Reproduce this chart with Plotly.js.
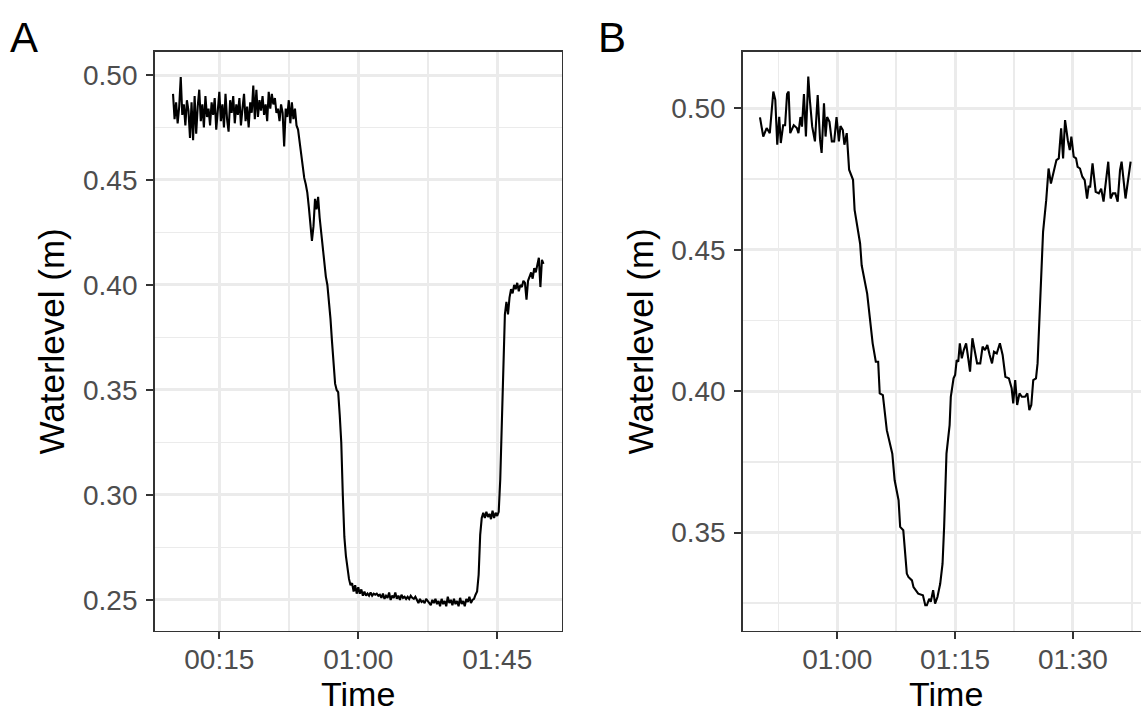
<!DOCTYPE html>
<html>
<head>
<meta charset="utf-8">
<script src="https://cdn.plot.ly/plotly-3.0.1.min.js"></script>
<style>
html, body { margin: 0; padding: 0; overflow: hidden; background: #ffffff; }
#chart { width: 1150px; height: 714px; }
</style>
</head>
<body>
<div id="chart"></div>
<script>
// ---------- Data ----------
// Panel A: sampled every 30 s starting 00:00
const startA_min = 0;
const stepA_min = 0.5;
const levelA = [
0.491,0.479,0.487,0.477,0.485,0.499,0.481,0.486,0.476,0.488,
0.483,0.470,0.487,0.469,0.490,0.472,0.485,0.493,0.478,0.486,
0.475,0.490,0.480,0.484,0.476,0.487,0.481,0.489,0.474,0.485,
0.492,0.478,0.486,0.475,0.491,0.479,0.473,0.488,0.482,0.490,
0.477,0.486,0.481,0.489,0.476,0.484,0.491,0.478,0.485,0.475,
0.487,0.482,0.495,0.479,0.493,0.480,0.488,0.483,0.490,0.481,
0.486,0.478,0.492,0.484,0.491,0.486,0.489,0.482,0.484,0.478,
0.486,0.482,0.466,0.484,0.480,0.488,0.477,0.487,0.479,0.484,
0.476,0.474,0.468,0.462,0.456,0.451,0.448,0.444,0.437,0.430,
0.421,0.428,0.441,0.436,0.442,0.432,0.425,0.418,0.410,0.404,
0.400,0.393,0.384,0.373,0.362,0.353,0.350,0.349,0.338,0.325,
0.300,0.280,0.271,0.265,0.260,0.257,0.258,0.254,0.257,0.253,
0.256,0.253,0.255,0.252,0.254,0.252,0.253,0.252,0.2535,0.252,
0.253,0.2525,0.253,0.252,0.2525,0.251,0.253,0.2505,0.252,0.251,
0.2535,0.250,0.252,0.251,0.2535,0.2505,0.252,0.250,0.2525,0.251,
0.2515,0.2505,0.2515,0.2505,0.252,0.251,0.2505,0.2515,0.250,0.2485,
0.2505,0.249,0.2495,0.2485,0.2505,0.2495,0.249,0.2475,0.250,0.2485,
0.2505,0.248,0.2495,0.247,0.2505,0.248,0.2495,0.247,0.2515,0.2485,
0.250,0.2475,0.2505,0.248,0.2495,0.247,0.251,0.248,0.2495,0.247,
0.2505,0.249,0.2515,0.2485,0.250,0.2505,0.2525,0.254,0.262,0.281,
0.289,0.2915,0.289,0.292,0.2895,0.291,0.2885,0.2925,0.289,0.2915,
0.290,0.292,0.3075,0.337,0.370,0.386,0.392,0.386,0.394,0.398,
0.396,0.400,0.398,0.401,0.397,0.400,0.399,0.402,0.401,0.393,
0.402,0.404,0.406,0.403,0.408,0.406,0.410,0.413,0.399,0.412,
0.410
];

// Panel B: readings (minutes after 00:00, water level in m)
const timeB_min = [
50.15,50.57,51.0,51.4,51.85,52.1,52.35,52.6,52.8,53.1,
53.35,53.6,53.8,54.0,54.45,54.85,55.05,55.3,55.5,55.75,
56.0,56.3,56.5,56.8,57.15,57.5,57.8,58.0,58.3,58.5,
58.7,59.0,59.3,59.6,59.9,60.2,60.4,60.7,60.9,61.2,
61.5,62.0,62.2,62.6,62.9,63.1,63.8,64.5,64.9,65.2,
65.4,65.8,66.1,66.3,67.0,67.3,67.8,68.0,68.4,68.85,
69.05,69.5,69.7,70.0,70.3,70.9,71.2,71.4,71.7,71.9,
72.2,72.45,72.75,73.1,73.4,73.6,73.9,74.3,74.45,74.8,
75.0,75.2,75.4,75.6,75.85,76.1,76.4,76.7,76.9,77.2,
77.5,77.8,78.2,78.5,78.8,79.1,79.4,79.7,79.95,80.3,
80.7,81.05,81.4,81.85,82.2,82.4,82.65,82.9,83.2,83.5,
83.9,84.2,84.45,84.7,84.95,85.3,85.5,85.8,86.0,86.2,
86.6,86.9,87.2,87.5,87.9,88.2,88.5,88.75,89.0,89.35,
89.6,89.8,90.1,90.4,90.6,90.9,91.2,91.5,91.8,92.0,
92.2,92.5,92.9,93.3,93.6,93.9,94.2,94.5,94.8,95.1,
95.4,95.7,96.0,96.2,96.7,97.05,97.35
];
const levelB = [
0.4968,0.4900,0.4930,0.4912,0.5059,0.5030,0.4871,0.4970,0.4877,0.4940,
0.4940,0.5050,0.5059,0.4912,0.4940,0.4930,0.4912,0.4969,0.4935,0.5050,
0.4900,0.5112,0.5030,0.4935,0.4883,0.5047,0.4889,0.4842,0.5018,0.4900,
0.4969,0.4952,0.4883,0.4883,0.4969,0.4883,0.4937,0.4923,0.4871,0.4912,
0.4783,0.4747,0.4641,0.4569,0.4522,0.4445,0.4345,0.4169,0.4104,0.4104,
0.3992,0.3986,0.3897,0.3862,0.3779,0.3685,0.3614,0.3520,0.3508,0.3355,
0.3343,0.3331,0.3307,0.3296,0.3284,0.3278,0.3243,0.3243,0.3266,0.3255,
0.3296,0.3249,0.3272,0.3319,0.3390,0.3520,0.3779,0.3880,0.3980,0.4045,
0.4057,0.4110,0.4104,0.4169,0.4116,0.4145,0.4169,0.4110,0.4069,0.4187,
0.4145,0.4098,0.4098,0.4157,0.4145,0.4163,0.4128,0.4098,0.4139,0.4133,
0.4169,0.4128,0.4051,0.4045,0.4010,0.3957,0.4039,0.3951,0.3992,0.3980,
0.3980,0.3992,0.3933,0.3951,0.4039,0.4045,0.4098,0.4298,0.4451,0.4563,
0.4675,0.4787,0.4734,0.4770,0.4817,0.4823,0.4929,0.4823,0.4958,0.4887,
0.4852,0.4900,0.4829,0.4823,0.4793,0.4787,0.4758,0.4746,0.4681,0.4723,
0.4723,0.4805,0.4705,0.4699,0.4716,0.4670,0.4746,0.4811,0.4681,0.4699,
0.4699,0.4670,0.4781,0.4811,0.4681,0.4746,0.4811
];

const panelTags = ['A', 'B'];
const xTitle = 'Time';
const yTitle = 'Waterlevel (m)';

// ---------- Helpers ----------
const BASE = Date.UTC(2020, 0, 1);
function ts(min) {
  const d = new Date(BASE + Math.round(min * 60000));
  return d.toISOString().replace('T', ' ').slice(0, 19);
}
const xA = levelA.map((_, i) => ts(startA_min + i * stepA_min));
const xB = timeB_min.map(ts);

const W = 1150, H = 714;
const px = v => v / W;
const py = v => 1 - v / H;

const GRID = '#EBEBEB';
const DARK = '#333333';
const FONT = 'Liberation Sans, Arial, Helvetica, sans-serif';

function xAxis(domain, range, tick0, dtickMin, anchor) {
  return {
    type: 'date', domain: domain, range: range, anchor: anchor,
    tick0: tick0, dtick: dtickMin * 60000, tickformat: '%H:%M',
    ticks: 'outside', ticklen: 7, tickwidth: 2, tickcolor: DARK, ticklabelstandoff: -4,
    showline: true, mirror: true, linecolor: DARK, linewidth: 1.4,
    showgrid: true, gridcolor: GRID, gridwidth: 3,
    minor: { tick0: tick0, dtick: dtickMin * 30000, showgrid: true, gridcolor: GRID, gridwidth: 1.6, ticks: '' },
    tickfont: { family: FONT, size: 28, color: '#4D4D4D' },
    zeroline: false, automargin: false, fixedrange: true
  };
}
function yAxis(domain, range, anchor) {
  return {
    domain: domain, range: range, anchor: anchor,
    tick0: 0, dtick: 0.05, tickformat: '.2f',
    ticks: 'outside', ticklen: 7, tickwidth: 2, tickcolor: DARK, ticklabelstandoff: 3,
    showline: true, mirror: true, linecolor: DARK, linewidth: 1.4,
    showgrid: true, gridcolor: GRID, gridwidth: 3,
    minor: { tick0: 0, dtick: 0.025, showgrid: true, gridcolor: GRID, gridwidth: 1.6, ticks: '' },
    tickfont: { family: FONT, size: 28, color: '#4D4D4D' },
    title: { text: yTitle, font: { family: FONT, size: 35, color: '#000000' }, standoff: 7 },
    zeroline: false, automargin: false, fixedrange: true
  };
}

const traces = [
  { x: xA, y: levelA, type: 'scatter', mode: 'lines', line: { color: '#000000', width: 2.1 }, xaxis: 'x', yaxis: 'y', hoverinfo: 'skip' },
  { x: xB, y: levelB, type: 'scatter', mode: 'lines', line: { color: '#000000', width: 2.1 }, xaxis: 'x2', yaxis: 'y2', hoverinfo: 'skip' }
];

const yDom = [py(631), py(51.7)];
const domA = [px(154.5), px(562)];
const domB = [px(742.7), 1];

function titleAnn(xc) {
  return { text: xTitle, xref: 'paper', yref: 'paper', x: xc, y: py(714), xanchor: 'center', yanchor: 'bottom',
           showarrow: false, borderpad: 0, font: { family: FONT, size: 34, color: '#000000' } };
}
function tagAnn(txt, xl) {
  return { text: txt, xref: 'paper', yref: 'paper', x: px(xl), y: py(12), xanchor: 'left', yanchor: 'top',
           showarrow: false, font: { family: FONT, size: 42, color: '#000000' } };
}

const layout = {
  width: W, height: H,
  margin: { l: 0, r: 0, t: 0, b: 0 },
  paper_bgcolor: '#ffffff', plot_bgcolor: '#ffffff',
  showlegend: false,
  font: { family: FONT },
  xaxis: xAxis(domA, [ts(-6), ts(126)], ts(15), 45, 'y'),
  yaxis: yAxis(yDom, [0.2352, 0.5111], 'x'),
  xaxis2: xAxis(domB, [ts(47.95), ts(99.82)], ts(60), 15, 'y2'),
  yaxis2: yAxis(yDom, [0.3152, 0.5200], 'x2'),
  annotations: [
    titleAnn((domA[0] + domA[1]) / 2),
    titleAnn(px((742.7 + 1150) / 2)),
    tagAnn(panelTags[0], 8),
    tagAnn(panelTags[1], 596)
  ]
};

Plotly.newPlot('chart', traces, layout, { staticPlot: true, displayModeBar: false });
</script>
</body>
</html>
